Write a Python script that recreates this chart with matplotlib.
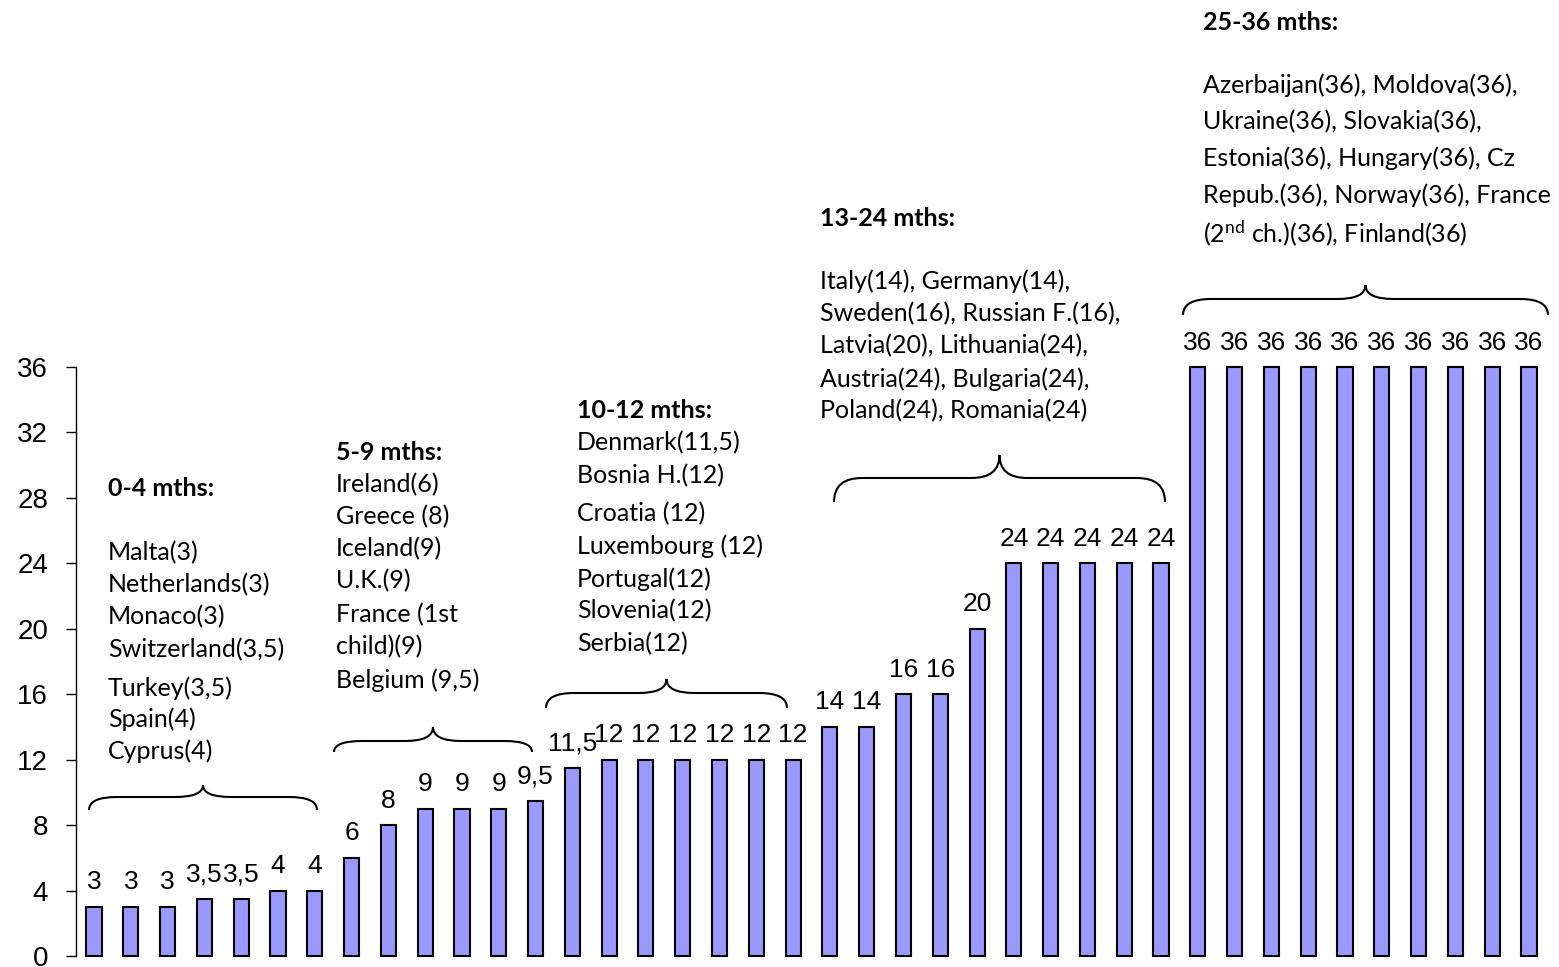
import matplotlib
matplotlib.use('Agg')
import matplotlib.pyplot as plt
from matplotlib import font_manager
from matplotlib.path import Path
from matplotlib.patches import PathPatch
import numpy as np

# --- Data ---
values = [3, 3, 3, 3.5, 3.5, 4, 4,
          6, 8, 9, 9, 9, 9.5,
          11.5, 12, 12, 12, 12, 12, 12,
          14, 14, 16, 16, 20, 24, 24, 24, 24, 24,
          36, 36, 36, 36, 36, 36, 36, 36, 36, 36]
y_ticks = [0, 4, 8, 12, 16, 20, 24, 28, 32, 36]

group_titles = ['0-4 mths:', '5-9 mths:', '10-12 mths:', '13-24 mths:', '25-36 mths:']
group_lines = [
    ['Malta(3)', 'Netherlands(3)', 'Monaco(3)', 'Switzerland(3,5)',
     'Turkey(3,5)', 'Spain(4)', 'Cyprus(4)'],
    ['Ireland(6)', 'Greece (8)', 'Iceland(9)', 'U.K.(9)', 'France (1st',
     'child)(9)', 'Belgium (9,5)'],
    ['Denmark(11,5)', 'Bosnia H.(12)', 'Croatia (12)', 'Luxembourg (12)',
     'Portugal(12)', 'Slovenia(12)', 'Serbia(12)'],
    ['Italy(14), Germany(14),', 'Sweden(16), Russian F.(16),',
     'Latvia(20), Lithuania(24),', 'Austria(24), Bulgaria(24),',
     'Poland(24), Romania(24)'],
    ['Azerbaijan(36), Moldova(36),', 'Ukraine(36), Slovakia(36),',
     'Estonia(36), Hungary(36), Cz', 'Repub.(36), Norway(36), France',
     r'(2$^{nd}$ ch.)(36), Finland(36)'],
]

# --- Layout (reference pixel positions of the annotation blocks) ---
W, H = 1559, 967
text_x = [108, 336, 577, 820, 1203]
title_y = [489, 452, 411, 219, 22]
line_y = [
    [553, 585, 617, 650, 688, 719, 751],
    [485, 517, 549, 581, 615, 647, 680],
    [443, 476, 514, 546, 579, 611, 644],
    [281, 314, 346, 379, 411],
    [85, 122, 158, 195, 233],
]
# x0, x1, y_end, y_mid, y_tip
braces = [(89, 317, 810, 797, 785), (334, 532, 752, 741, 727),
          (546, 787, 708, 693, 679), (834, 1165, 502, 478, 455),
          (1183, 1548, 315, 299, 285)]

names = {f.name for f in font_manager.fontManager.ttflist}
TEXT_FONT = 'Lato' if 'Lato' in names else 'Liberation Sans'
NUM_FONT = 'Liberation Sans' if 'Liberation Sans' in names else 'DejaVu Sans'

plt.rcParams['mathtext.fontset'] = 'custom'
plt.rcParams['mathtext.rm'] = TEXT_FONT
plt.rcParams['mathtext.default'] = 'regular'


def fx(px):
    return px / W


def fy(py):
    return 1 - py / H


def brace_path(x0, x1, y_end, y_mid, y_tip, r=28):
    xc = (x0 + x1) / 2
    pts = [(x0, y_end), (x0, y_mid), (x0 + r, y_mid),
           (xc - r, y_mid), (xc, y_mid), (xc, y_tip),
           (xc, y_mid), (xc + r, y_mid),
           (x1 - r, y_mid), (x1, y_mid), (x1, y_end)]
    codes = [Path.MOVETO, Path.CURVE3, Path.CURVE3,
             Path.LINETO, Path.CURVE3, Path.CURVE3,
             Path.CURVE3, Path.CURVE3,
             Path.LINETO, Path.CURVE3, Path.CURVE3]
    return Path([(fx(a), fy(b)) for a, b in pts], codes)


fig = plt.figure(figsize=(W / 100, H / 100), dpi=100)
ax = fig.add_axes([fx(76), 1 - 956 / H, (1547 - 76) / W, 589 / H])

x = np.arange(len(values))
ax.bar(x, values, width=0.41, color='#9999FF', edgecolor='black',
       linewidth=1.5, clip_on=False)

for xi, v in zip(x, values):
    lab = ('%g' % v).replace('.', ',')
    ax.annotate(lab, (xi, v), xytext=(0, 9), textcoords='offset points',
                ha='center', va='bottom', fontsize=19, family=NUM_FONT,
                annotation_clip=False)

ax.set_xlim(-0.49, 39.49)
ax.set_ylim(0, 36)
ax.set_yticks(y_ticks)
ax.set_xticks([])
for side in ['top', 'right', 'bottom']:
    ax.spines[side].set_visible(False)
ax.spines['left'].set_linewidth(1.0)
ax.tick_params(axis='y', direction='out', length=7, width=1.0, pad=13,
               labelsize=20)
for t in ax.get_yticklabels():
    t.set_family(NUM_FONT)

# group annotations
for i in range(len(group_titles)):
    fig.text(fx(text_x[i]), fy(title_y[i]), group_titles[i], ha='left',
             va='center', fontsize=18, fontweight='bold', family=TEXT_FONT)
    for line, py in zip(group_lines[i], line_y[i]):
        fig.text(fx(text_x[i]), fy(py), line, ha='left', va='center',
                 fontsize=18, family=TEXT_FONT)
    fig.add_artist(PathPatch(brace_path(*braces[i]), fill=False,
                             edgecolor='black', linewidth=1.5,
                             transform=fig.transFigure))

fig.savefig('out.png', dpi=100)
